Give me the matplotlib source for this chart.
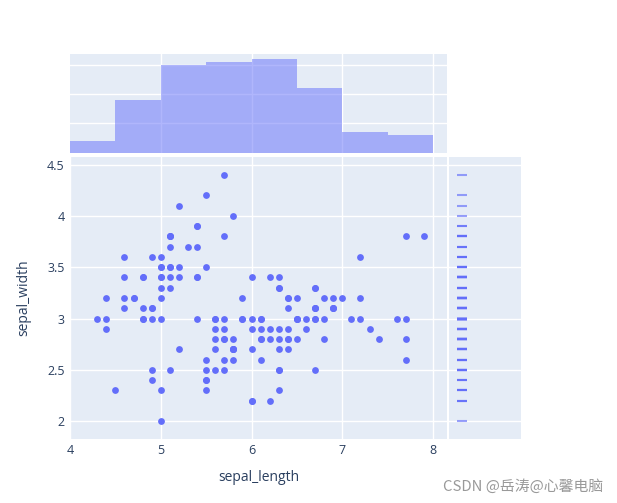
import numpy as np
import matplotlib.pyplot as plt

# iris: sepal_length / sepal_width
sepal_length = [5.1, 4.9, 4.7, 4.6, 5.0, 5.4, 4.6, 5.0, 4.4, 4.9, 5.4, 4.8, 4.8, 4.3, 5.8, 5.7, 5.4, 5.1, 5.7, 5.1,
                5.4, 5.1, 4.6, 5.1, 4.8, 5.0, 5.0, 5.2, 5.2, 4.7, 4.8, 5.4, 5.2, 5.5, 4.9, 5.0, 5.5, 4.9, 4.4, 5.1,
                5.0, 4.5, 4.4, 5.0, 5.1, 4.8, 5.1, 4.6, 5.3, 5.0,
                7.0, 6.4, 6.9, 5.5, 6.5, 5.7, 6.3, 4.9, 6.6, 5.2, 5.0, 5.9, 6.0, 6.1, 5.6, 6.7, 5.6, 5.8, 6.2, 5.6,
                5.9, 6.1, 6.3, 6.1, 6.4, 6.6, 6.8, 6.7, 6.0, 5.7, 5.5, 5.5, 5.8, 6.0, 5.4, 6.0, 6.7, 6.3, 5.6, 5.5,
                5.5, 6.1, 5.8, 5.0, 5.6, 5.7, 5.7, 6.2, 5.1, 5.7,
                6.3, 5.8, 7.1, 6.3, 6.5, 7.6, 4.9, 7.3, 6.7, 7.2, 6.5, 6.4, 6.8, 5.7, 5.8, 6.4, 6.5, 7.7, 7.7, 6.0,
                6.9, 5.6, 7.7, 6.3, 6.7, 7.2, 6.2, 6.1, 6.4, 7.2, 7.4, 7.9, 6.4, 6.3, 6.1, 7.7, 6.3, 6.4, 6.0, 6.9,
                6.7, 6.9, 5.8, 6.8, 6.7, 6.7, 6.3, 6.5, 6.2, 5.9]
sepal_width = [3.5, 3.0, 3.2, 3.1, 3.6, 3.9, 3.4, 3.4, 2.9, 3.1, 3.7, 3.4, 3.0, 3.0, 4.0, 4.4, 3.9, 3.5, 3.8, 3.8,
               3.4, 3.7, 3.6, 3.3, 3.4, 3.0, 3.4, 3.5, 3.4, 3.2, 3.1, 3.4, 4.1, 4.2, 3.1, 3.2, 3.5, 3.6, 3.0, 3.4,
               3.5, 2.3, 3.2, 3.5, 3.8, 3.0, 3.8, 3.2, 3.7, 3.3,
               3.2, 3.2, 3.1, 2.3, 2.8, 2.8, 3.3, 2.4, 2.9, 2.7, 2.0, 3.0, 2.2, 2.9, 2.9, 3.1, 3.0, 2.7, 2.2, 2.5,
               3.2, 2.8, 2.5, 2.8, 2.9, 3.0, 2.8, 3.0, 2.9, 2.6, 2.4, 2.4, 2.7, 2.7, 3.0, 3.4, 3.1, 2.3, 3.0, 2.5,
               2.6, 3.0, 2.6, 2.3, 2.7, 3.0, 2.9, 2.9, 2.5, 2.8,
               3.3, 2.7, 3.0, 2.9, 3.0, 3.0, 2.5, 2.9, 2.5, 3.6, 3.2, 2.7, 3.0, 2.5, 2.8, 3.2, 3.0, 3.8, 2.6, 2.2,
               3.2, 2.8, 2.8, 2.7, 3.3, 3.2, 2.8, 3.0, 2.8, 3.0, 2.8, 3.8, 2.8, 2.8, 2.6, 3.0, 3.4, 3.1, 3.0, 3.1,
               3.1, 3.1, 2.7, 3.2, 3.3, 3.0, 2.5, 3.0, 3.4, 3.0]

x_ticks = [4, 5, 6, 7, 8]
y_ticks = [2, 2.5, 3, 3.5, 4, 4.5]
y_ticklabels = ['2', '2.5', '3', '3.5', '4', '4.5']
hist_bins = np.arange(4.0, 8.01, 0.5)

blue = '#636efa'
bg = '#E5ECF6'
txt = '#2a3f5f'
plt.rcParams['font.family'] = ['Open Sans', 'DejaVu Sans']

W, H = 617, 503
fig = plt.figure(figsize=(W / 100, H / 100), dpi=100)


def box(x0, y0, x1, y1):
    return [x0 / W, 1 - y1 / H, (x1 - x0) / W, (y1 - y0) / H]


ax = fig.add_axes(box(70, 157, 446.7, 438.5))
axh = fig.add_axes(box(70, 54, 446.7, 152.7))
axr = fig.add_axes(box(449, 157, 521, 438.5))

for a in (ax, axh, axr):
    a.set_facecolor(bg)
    for s in a.spines.values():
        s.set_visible(False)
    a.set_axisbelow(True)
    a.tick_params(length=0, colors=txt, labelsize=9)

# main scatter
ax.scatter(sepal_length, sepal_width, s=24, color=blue, linewidths=0, zorder=3)
ax.set_xlim(4.0, 8.15)
ax.set_ylim(1.83, 4.575)
ax.set_xticks(x_ticks)
ax.set_yticks(y_ticks)
ax.set_yticklabels(y_ticklabels)
ax.grid(True, color='white', linewidth=1.0)
ax.tick_params(axis='x', pad=4)
ax.tick_params(axis='y', pad=4)
ax.set_xlabel('sepal_length', fontsize=10, color=txt, labelpad=9)
ax.set_ylabel('sepal_width', fontsize=10, color=txt, labelpad=11)

# top histogram
axh.hist(sepal_length, bins=hist_bins, color=blue, alpha=0.5, zorder=2)
axh.set_xlim(4.0, 8.15)
axh.set_ylim(0, 33.6)
axh.set_xticks(x_ticks[1:])
axh.set_yticks([10, 20, 30])
axh.set_xticklabels([])
axh.set_yticklabels([])
axh.grid(True, color='white', linewidth=1.0)

# right rug
axr.plot([0.174] * len(sepal_width), sepal_width, linestyle='none', marker='_',
         markersize=7, markeredgewidth=1.5, color=blue, alpha=0.65)
axr.set_xlim(0, 1)
axr.set_ylim(1.83, 4.575)
axr.set_xticks([])
axr.set_yticks(y_ticks)
axr.set_yticklabels([])
axr.grid(True, axis='y', color='white', linewidth=1.0)

fig.text(603 / W, 1 - 487 / H, 'CSDN @岳涛@心馨电脑', ha='right', va='center',
         fontsize=10.7, color='#999999', family=['Noto Sans CJK SC', 'DejaVu Sans'])

fig.savefig('out.png', dpi=100)
